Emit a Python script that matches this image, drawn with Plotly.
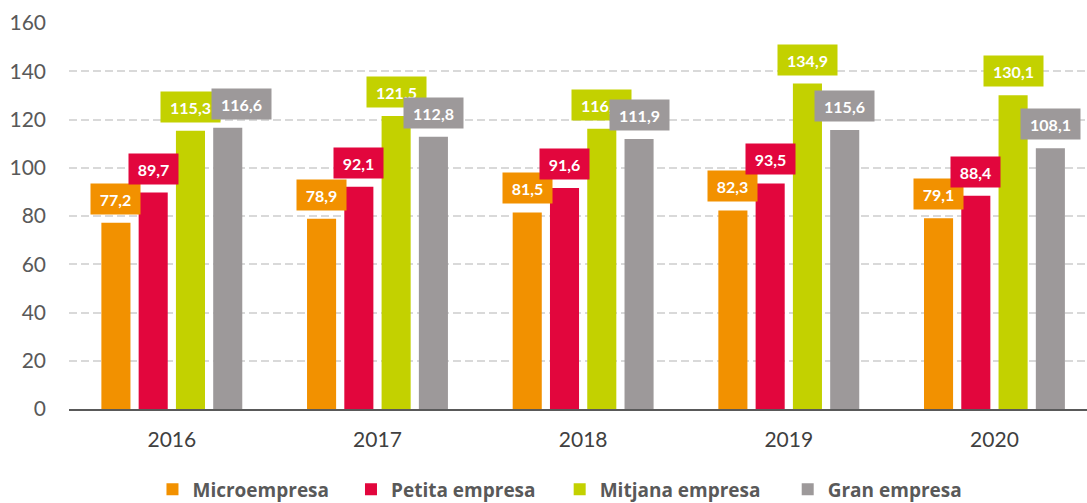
import plotly.graph_objects as go

years = ["2016", "2017", "2018", "2019", "2020"]
series_names = ["Microempresa", "Petita empresa", "Mitjana empresa", "Gran empresa"]
micro = [77.2, 78.9, 81.5, 82.3, 79.1]
petita = [89.7, 92.1, 91.6, 93.5, 88.4]
mitjana = [115.3, 121.5, 116.2, 134.9, 130.1]
gran = [116.6, 112.8, 111.9, 115.6, 108.1]
y_ticks = [0, 20, 40, 60, 80, 100, 120, 140, 160]

colors = ["#F29100", "#E2063D", "#C3D100", "#9D999A"]
all_series = [micro, petita, mitjana, gran]

FONT = "Lato"
x_pos = list(range(len(years)))
bargap = 0.275
slot = (1 - bargap) / len(all_series)

legend_ids = ["legend", "legend2", "legend3", "legend4"]
legend_x = [0.082, 0.277, 0.482, 0.706]

fig = go.Figure()
for name, vals, col, lid in zip(series_names, all_series, colors, legend_ids):
    fig.add_trace(go.Bar(
        x=x_pos, y=vals, name=name, marker=dict(color=col, line=dict(width=0)),
        hoverinfo="y+name", legend=lid,
    ))

def fmt(v):
    return f"{v:.1f}".replace(".", ",")

# manual nudge of one label (as in the reference, to avoid overlap)
label_xshift = {(3, 0): 14}

annotations = []
for i, (vals, col) in enumerate(zip(all_series, colors)):
    off = (i - (len(all_series) - 1) / 2) * slot
    for j, v in enumerate(vals):
        t = fmt(v)
        annotations.append(dict(
            x=x_pos[j] + off, y=v, xref="x", yref="y",
            text=f"<b>{t}</b>", showarrow=False,
            yanchor="bottom", xanchor="center", yshift=8,
            xshift=label_xshift.get((i, j), 0),
            bgcolor=col, borderpad=5, width=10 * len(t) - 1, height=20,
            font=dict(family=FONT, size=16, color="white"),
        ))

legend_common = dict(
    orientation="h", xanchor="left", yref="container", y=0.027, yanchor="middle",
    font=dict(family="Open Sans", size=19, color="#595959", weight="bold"),
    itemclick=False, itemdoubleclick=False, bgcolor="rgba(0,0,0,0)",
)
layout_legends = {}
for lid, lx in zip(legend_ids, legend_x):
    layout_legends[lid] = dict(legend_common, x=lx)

fig.update_layout(
    width=1087, height=503,
    margin=dict(l=69, r=0, t=23, b=94, autoexpand=False),
    paper_bgcolor="white", plot_bgcolor="white",
    barmode="group", bargap=bargap, bargroupgap=0.22,
    annotations=annotations,
    showlegend=True,
    xaxis=dict(
        tickvals=x_pos, ticktext=years, range=[-0.5, 4.45],
        showgrid=False, zeroline=False, automargin=False,
        showline=True, linecolor="#595959", linewidth=2,
        ticks="", ticklabelstandoff=11,
        tickfont=dict(family=FONT, size=21, color="#404040"),
    ),
    yaxis=dict(
        range=[0, 160], tickvals=y_ticks, showgrid=True, automargin=False,
        gridcolor="#D9D9D9", griddash="8px,4px", gridwidth=1.5,
        zeroline=False, showline=False, ticks="", ticklabelstandoff=22,
        tickfont=dict(family=FONT, size=21, color="#595959"),
    ),
    **layout_legends,
)

fig.write_html(
    "out.html",
    config={"displayModeBar": False},
    post_script="document.body.style.margin='0';document.body.style.overflow='hidden';",
)
